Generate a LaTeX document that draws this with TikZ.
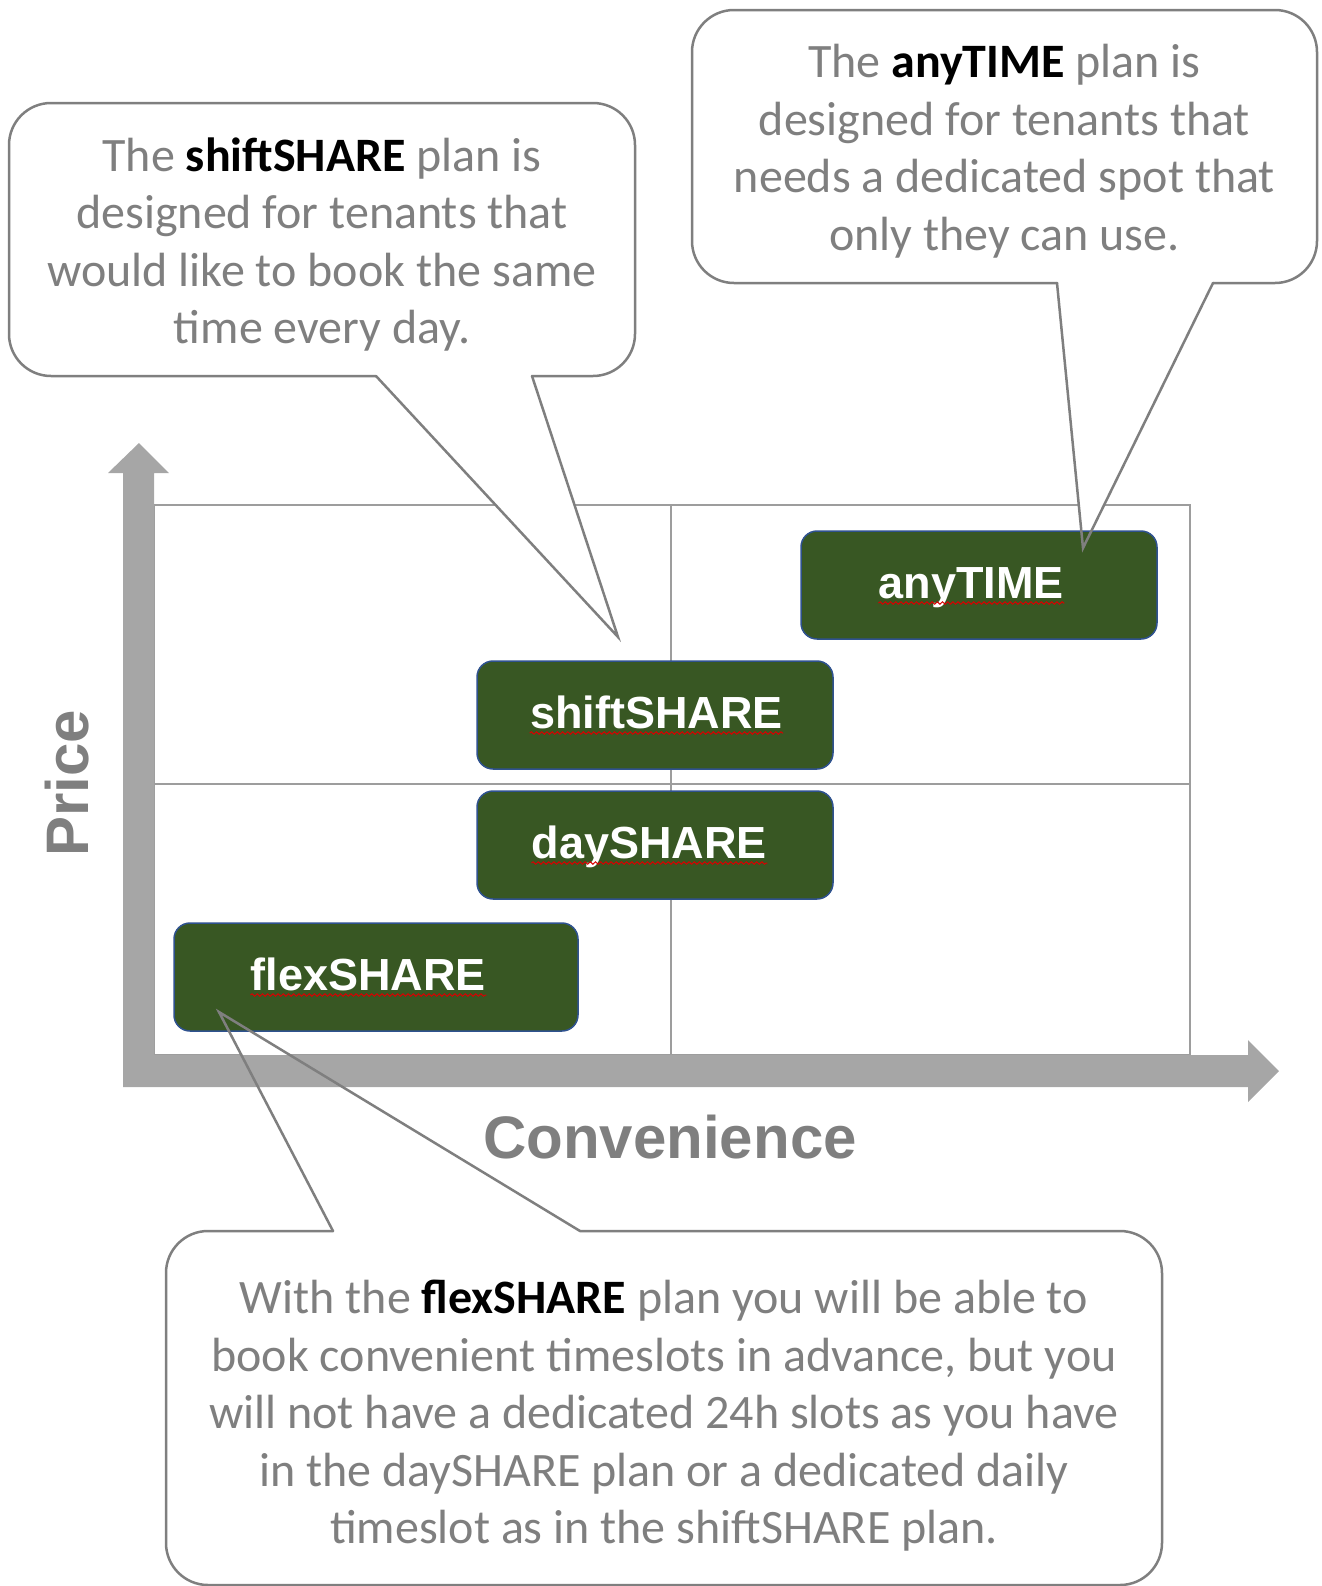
\documentclass[tikz,border=0pt]{standalone}
\usepackage{fontspec}
\setmainfont{Carlito}
\newfontfamily\arialfont{Liberation Sans}
\usetikzlibrary{decorations.pathmorphing}

\definecolor{axisgray}{HTML}{A6A6A6}
\definecolor{gridgray}{HTML}{9D9D9D}
\definecolor{notegray}{HTML}{7F7F7F}
\definecolor{plangreen}{HTML}{385723}
\definecolor{planedge}{HTML}{2F528F}

\newcommand{\planword}[1]{{\bfseries\color{black}#1}}

\begin{document}
\begin{tikzpicture}[x=0.5pt, y=-0.5pt,
    note/.style={fill=white, rounded corners=21pt, inner sep=0pt, outer sep=0pt},
    notetext/.style={inner sep=0pt, align=center, text=notegray,
        font=\fontsize{24}{28.75}\selectfont},
    noteline/.style={draw=notegray, line width=1.25pt, line cap=round},
    plan/.style={fill=plangreen, draw=planedge, line width=0.75pt, rounded corners=8pt,
        minimum height=54pt, inner sep=0pt},
    plantext/.style={text=white, inner sep=0pt,
        font=\arialfont\bfseries\fontsize{22.5}{27}\selectfont},
    squiggle/.style={draw=red!85!black, line width=0.5pt, decorate,
        decoration={snake, amplitude=0.6pt, segment length=2.6pt}},
    axislabel/.style={text=notegray, font=\arialfont\bfseries\fontsize{30}{36}\selectfont}]

    \useasboundingbox (0,0) rectangle (1322,1586);

    % grid of the four quadrants
    \draw[gridgray, line width=1pt] (154,505) rectangle (1190,1055);
    \draw[gridgray, line width=1pt] (671,505) -- (671,1055);
    \draw[gridgray, line width=1pt] (154,784) -- (1190,784);

    % callout bodies
    \node[note, minimum width=313pt, minimum height=136.5pt] (shiftnote) at (322,239.5) {};
    \node[note, minimum width=312.5pt, minimum height=136.5pt] (anynote) at (1004.5,146.5) {};
    \node[note, minimum width=498pt, minimum height=177pt] (flexnote) at (664,1408) {};

    \node[notetext] (shifttext) at ([yshift=-2.5pt]shiftnote.center)
        {The \planword{shiftSHARE} plan is\\designed for tenants that\\would like to book the same\\time every day.};
    \node[notetext] (anytext) at ([yshift=-2.3pt]anynote.center)
        {The \planword{anyTIME} plan is\\designed for tenants that\\needs a dedicated spot that\\only they can use.};
    \node[notetext] (flextext) at ([yshift=-4pt]flexnote.center)
        {With the \planword{flexSHARE} plan you will be able to\\book convenient timeslots in advance, but you\\will not have a dedicated 24h slots as you have\\in the daySHARE plan or a dedicated daily\\timeslot as in the shiftSHARE plan.};

    \coordinate (shift-t1) at (376,376);
    \coordinate (shift-tip) at (618,637);
    \coordinate (shift-t2) at (532,376);
    \coordinate (any-t1) at (1057,283);
    \coordinate (any-tip) at (1083,548);
    \coordinate (any-t2) at (1213,283);
    \coordinate (flex-t1) at (333,1231);
    \coordinate (flex-tip) at (219,1012);
    \coordinate (flex-t2) at (580,1231);

    \foreach \c in {shift, any, flex}
        \fill[white] (\c-t1) -- (\c-tip) -- (\c-t2) -- cycle;

    % axes
    \fill[axisgray] (154,473) -- (169,473) -- (139,443) -- (108,473) -- (123,473)
        -- (123,1087) -- (1248,1087) -- (1248,1102) -- (1279,1071) -- (1248,1040)
        -- (1248,1055) -- (154,1055) -- cycle;
    \node[axislabel, rotate=90] (price) at (67,783) {Price};
    \node[axislabel] (convenience) at (670,1137) {Convenience};

    % plans
    \foreach \nm/\x/\y/\w/\dx/\txt in {anytime/979/585/178/-3.8/anyTIME, shift/655/715/178/0.7/shiftSHARE,
        day/655/845/178/-2.8/daySHARE, flex/376/977/202/-3.8/flexSHARE}
    {
        \node[plan, minimum width=\w pt] (\nm) at (\x,\y) {};
        \node[plantext, anchor=base] (\nm-txt) at ([xshift=\dx pt, yshift=-6.5pt]\nm.center) {\txt};
        \draw[squiggle] ([yshift=-2.5pt]\nm-txt.base west) -- ([yshift=-2.5pt]\nm-txt.base east);
    }

    % callout outlines
    \draw[noteline, rounded corners=21pt] (shift-t2) -- (shiftnote.south east) -- (shiftnote.north east)
        -- (shiftnote.north west) -- (shiftnote.south west) -- (shift-t1);
    \draw[noteline] (shift-t1) -- (shift-tip) -- (shift-t2);
    \draw[noteline, rounded corners=21pt] (any-t2) -- (anynote.south east) -- (anynote.north east)
        -- (anynote.north west) -- (anynote.south west) -- (any-t1);
    \draw[noteline] (any-t1) -- (any-tip) -- (any-t2);
    \draw[noteline, rounded corners=21pt] (flex-t2) -- (flexnote.north east) -- (flexnote.south east)
        -- (flexnote.south west) -- (flexnote.north west) -- (flex-t1);
    \draw[noteline] (flex-t1) -- (flex-tip) -- (flex-t2);
\end{tikzpicture}
\end{document}
